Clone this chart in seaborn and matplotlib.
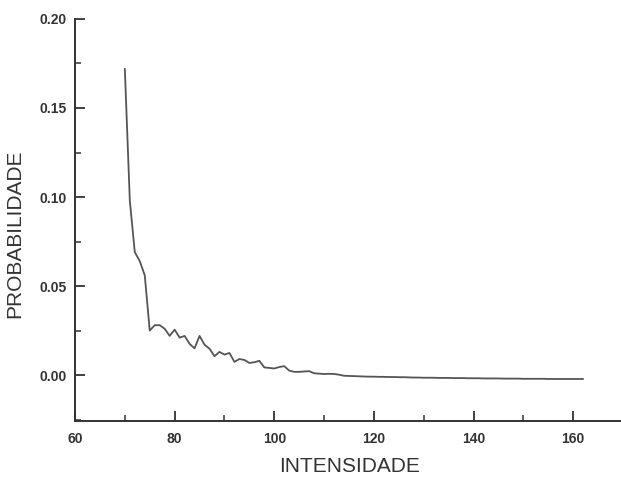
import numpy as np
import pandas as pd
import matplotlib
matplotlib.use("Agg")
import matplotlib.pyplot as plt
import seaborn as sns
from matplotlib.ticker import MultipleLocator
from matplotlib import font_manager

intensidade = list(range(70, 163))
probabilidade = [
    0.172, 0.098, 0.069, 0.064, 0.056, 0.025, 0.028, 0.028, 0.026, 0.022,   # 70-79
    0.0255, 0.021, 0.022, 0.0175, 0.015, 0.022, 0.017, 0.0148, 0.0106, 0.013,  # 80-89
    0.0115, 0.0124, 0.0074, 0.0090, 0.0085, 0.0068, 0.0072, 0.0080, 0.0043, 0.0040,  # 90-99
    0.0037, 0.0045, 0.0050, 0.0025, 0.0018, 0.0018, 0.0020, 0.0022, 0.0010, 0.0008,  # 100-109
    0.0006, 0.0007, 0.0006, 0.0002, -0.0004, -0.0005, -0.0006, -0.0007, -0.0008, -0.0009,  # 110-119
    -0.0009, -0.0010, -0.0010, -0.0011, -0.0011, -0.0012, -0.0012, -0.0013, -0.0014, -0.0014,  # 120-129
    -0.0015, -0.0015, -0.0015, -0.0016, -0.0016, -0.0016, -0.0017, -0.0017, -0.0017, -0.0018,  # 130-139
    -0.0018, -0.0018, -0.0019, -0.0019, -0.0019, -0.0019, -0.0020, -0.0020, -0.0020, -0.0020,  # 140-149
    -0.0021, -0.0021, -0.0021, -0.0021, -0.0021, -0.0022, -0.0022, -0.0022, -0.0022, -0.0022,  # 150-159
    -0.0022, -0.0022, -0.0022,  # 160-162
]
x_ticks = [60, 80, 100, 120, 140, 160]
x_tick_labels = ["60", "80", "100", "120", "140", "160"]
y_ticks = [0.0, 0.05, 0.10, 0.15, 0.20]
y_tick_labels = ["0.00", "0.05", "0.10", "0.15", "0.20"]
x_label = "INTENSIDADE"
y_label = "PROBABILIDADE"

df = pd.DataFrame({"x": intensidade, "y": probabilidade})

sns.set_style("ticks")
plt.rcParams["font.family"] = ["Liberation Sans", "DejaVu Sans"]

available = {f.name for f in font_manager.fontManager.ttflist}
narrow = None
for cand in ["Liberation Sans Narrow", "DejaVu Sans Condensed"]:
    if cand in available:
        narrow = cand
        break

fig = plt.figure(figsize=(6.21, 4.79), dpi=100)
ax = fig.add_axes([0.1208, 0.1211, 0.8792, 0.8393])

sns.lineplot(data=df, x="x", y="y", ax=ax, color="#555555", linewidth=1.3)

ax.set_xticks(x_ticks)
ax.set_xticklabels(x_tick_labels)
ax.set_yticks(y_ticks)
ax.set_yticklabels(y_tick_labels)
ax.xaxis.set_minor_locator(MultipleLocator(10))
ax.yaxis.set_minor_locator(MultipleLocator(0.025))
ax.set_xlim(60, 169.6)
ax.set_ylim(-0.0258, 0.2)

sns.despine(ax=ax)
for s in ["left", "bottom"]:
    ax.spines[s].set_color("#333333")
    ax.spines[s].set_linewidth(1.4)

ax.tick_params(which="major", direction="in", length=7, width=1.3, color="#333333",
               labelsize=10, labelcolor="#333333")
ax.tick_params(which="minor", direction="in", length=4, width=1.1, color="#333333")
ax.tick_params(axis="x", which="major", pad=8)
ax.tick_params(axis="y", which="major", pad=6)
for lab in ax.get_xticklabels() + ax.get_yticklabels():
    lab.set_fontweight("bold")

lab_family = [narrow, "Liberation Sans"] if narrow else ["Liberation Sans"]
lab_size = 17.5 if narrow == "Liberation Sans Narrow" else 15
ax.set_xlabel(x_label, fontsize=lab_size, color="#333333", family=lab_family)
ax.set_ylabel(y_label, fontsize=lab_size, color="#333333", family=lab_family)
ax.xaxis.set_label_coords(0.502, -0.09)
ax.yaxis.set_label_coords(-0.093, 0.466)

fig.savefig("out.png", dpi=100, facecolor="white")
